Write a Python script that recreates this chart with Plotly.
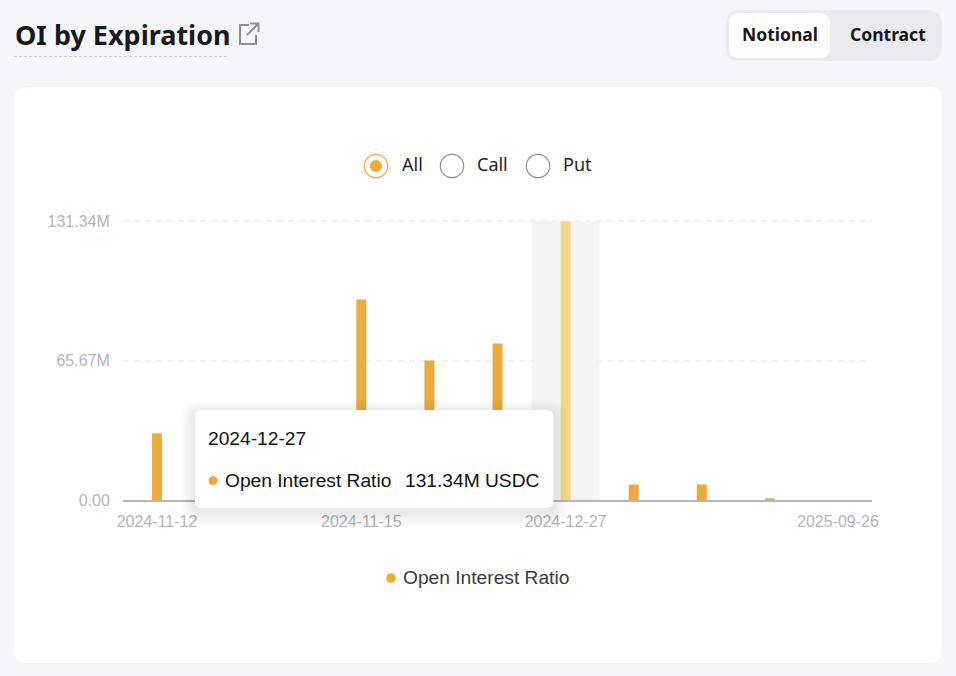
import plotly.graph_objects as go

WIDTH = 956
HEIGHT = 676

expirations = ["2024-11-12", "2024-11-13", "2024-11-14", "2024-11-15", "2024-11-22", "2024-11-29",
               "2024-12-27", "2025-01-31", "2025-03-28", "2025-06-27", "2025-09-26"]
open_interest = [31.4, 22.0, 27.0, 94.6, 65.8, 73.8, 131.34, 7.3, 7.4, 0.8, 0]
open_interest = [v * 1e6 for v in open_interest]

y_tick_values = [0, 65.67e6, 131.34e6]
y_tick_labels = ["0.00", "65.67M", "131.34M"]
x_tick_labels = ["2024-11-12", "2024-11-15", "2024-12-27", "2025-09-26"]

highlighted = "2024-12-27"
series_name = "Open Interest Ratio"
tooltip_value = "131.34M USDC"
radio_options = ["All", "Call", "Put"]

BG = "#f5f6fa"
ORANGE = "#edab3c"
ORANGE_LIGHT = "#f2d789"
GREY_TEXT = "#b3b5bb"
DARK = "#16181c"
HELVETICA = "Liberation Sans"
PLEX = "Noto Sans"

# a little headroom so plotly keeps the top gridline (it drops one sitting on the edge)
Y_HEADROOM = 1.006


def px(x):
    return x / WIDTH


def py(y):
    return 1 - y / HEIGHT


def rounded_path(x0, y0, x1, y1, r):
    """SVG path of a rounded box, in paper coordinates from canvas pixels."""
    rx, ry = r / WIDTH, r / HEIGHT
    l, r_, t, b = px(x0), px(x1), py(y0), py(y1)
    return (
        f"M {l + rx} {t} L {r_ - rx} {t} Q {r_} {t} {r_} {t - ry} "
        f"L {r_} {b + ry} Q {r_} {b} {r_ - rx} {b} "
        f"L {l + rx} {b} Q {l} {b} {l} {b + ry} "
        f"L {l} {t - ry} Q {l} {t} {l + rx} {t} Z"
    )


def box(x0, y0, x1, y1, r, fill, layer="below", opacity=1):
    return dict(type="path", xref="paper", yref="paper", path=rounded_path(x0, y0, x1, y1, r),
                fillcolor=fill, line=dict(width=0), layer=layer, opacity=opacity)


def circle(cx, cy, r, fill="rgba(0,0,0,0)", line_color=None, line_width=0, layer="below"):
    return dict(type="circle", xref="paper", yref="paper",
                x0=px(cx - r), x1=px(cx + r), y0=py(cy + r), y1=py(cy - r),
                fillcolor=fill, line=dict(color=line_color or fill, width=line_width), layer=layer)


def label(text, x, y, size, color=DARK, family=HELVETICA, xanchor="left", bold=False):
    if bold:
        text = f"<b>{text}</b>"
    return dict(text=text, x=px(x), y=py(y), xref="paper", yref="paper", xanchor=xanchor, yanchor="middle",
                showarrow=False, font=dict(size=size, color=color, family=family))


shapes = [
    box(14, 87, 942, 663, 14, "#ffffff"),
    box(726, 10, 942, 61, 14, "#e9ebf0"),
    box(729, 13, 830, 58, 10, "#ffffff"),
    dict(type="line", xref="paper", yref="paper", x0=px(14), x1=px(229), y0=py(56.5), y1=py(56.5),
         line=dict(color="#d2d4d9", width=1, dash="3px,2px"), layer="below"),
    # external link icon
    dict(type="path", xref="paper", yref="paper",
         path=f"M {px(249)} {py(25)} L {px(240)} {py(25)} L {px(240)} {py(44)} L {px(256)} {py(44)} L {px(256)} {py(35)}",
         line=dict(color="#8e9096", width=2), layer="below"),
    dict(type="path", xref="paper", yref="paper",
         path=f"M {px(247)} {py(35)} L {px(258)} {py(24)} M {px(250)} {py(23.5)} L {px(258.5)} {py(23.5)} L {px(258.5)} {py(32)}",
         line=dict(color="#8e9096", width=2), layer="below"),
    # radio buttons
    circle(376, 166, 11.7, "#ffffff", ORANGE, 1.2),
    circle(376, 166, 6, ORANGE),
    circle(452, 166, 11.7, "#ffffff", "#8e9096", 1.2),
    circle(538, 166, 11.7, "#ffffff", "#8e9096", 1.2),
    # hovered category band
    dict(type="rect", xref="x", yref="y",
         x0=expirations.index(highlighted) - 0.5, x1=expirations.index(highlighted) + 0.5,
         y0=0, y1=max(y_tick_values), fillcolor="#f3f4f6", line=dict(width=0), layer="below"),
    circle(391, 578, 4.8, ORANGE),
]

# tooltip shadow, stacked soft boxes
for grow in range(14, 0, -2):
    shapes.append(box(195 - grow, 410 - grow + 4, 553.5 + grow, 508 + grow + 4, 6 + grow, "#000000",
                      layer="above", opacity=0.012))
shapes.append(box(195, 410, 553.5, 508, 7, "#ffffff", layer="above"))
shapes.append(circle(213, 480.5, 4.6, ORANGE, layer="above"))

annotations = [
    label("OI by Expiration", 13, 35, 27, family=PLEX, bold=True),
    label("Notional", 780, 34.5, 17.5, family=PLEX, xanchor="center", bold=True),
    label("Contract", 888, 34.5, 17.5, family=PLEX, xanchor="center", bold=True),
    label(radio_options[0], 399.5, 164.5, 18, color="#222428", family=PLEX),
    label(radio_options[1], 475, 164.5, 18, color="#222428", family=PLEX),
    label(radio_options[2], 561, 164.5, 18, color="#222428", family=PLEX),
    label(series_name, 401, 577.5, 19.2, color="#3a3c40"),
    label(highlighted, 206, 438.5, 19.2, color="#111111"),
    label(series_name, 222.5, 480, 19.2, color="#111111"),
    label(tooltip_value, 542, 480, 19.2, color="#111111", xanchor="right"),
]

bar_colors = [ORANGE_LIGHT if d == highlighted else ORANGE for d in expirations]

fig = go.Figure(
    go.Bar(x=expirations, y=open_interest, name=series_name, marker=dict(color=bar_colors, line=dict(width=0)),
           hovertemplate="%{x}<br>" + series_name + " %{y:.4s} USDC<extra></extra>")
)

fig.update_layout(
    width=WIDTH,
    height=HEIGHT,
    margin=dict(l=0, r=0, t=0, b=0, autoexpand=False),
    paper_bgcolor=BG,
    plot_bgcolor="rgba(0,0,0,0)",
    showlegend=False,
    bargap=0.853,
    shapes=shapes,
    annotations=annotations,
    font=dict(family=HELVETICA, size=16, color=GREY_TEXT),
    xaxis=dict(
        domain=[px(123), px(872)],
        type="category",
        categoryorder="array",
        categoryarray=expirations,
        tickmode="array",
        tickvals=x_tick_labels,
        ticktext=x_tick_labels,
        tickangle=0,
        ticks="outside",
        ticklen=6,
        tickcolor="rgba(0,0,0,0)",
        showgrid=False,
        showline=True,
        linecolor="#b4b6bc",
        linewidth=1.5,
        zeroline=False,
        automargin=False,
    ),
    yaxis=dict(
        domain=[py(500), py(500 - 278.5 * Y_HEADROOM)],
        range=[0, max(y_tick_values) * Y_HEADROOM],
        tickmode="array",
        tickvals=y_tick_values,
        ticktext=y_tick_labels,
        ticks="outside",
        ticklen=9,
        tickcolor="rgba(0,0,0,0)",
        showgrid=True,
        gridcolor="#f1f2f4",
        griddash="6px,5px",
        gridwidth=1.5,
        zeroline=False,
        showline=False,
        automargin=False,
    ),
)

fig.write_html(
    "out.html",
    config={"displayModeBar": False},
    post_script="document.body.style.margin='0';document.body.style.background='" + BG + "';",
)
